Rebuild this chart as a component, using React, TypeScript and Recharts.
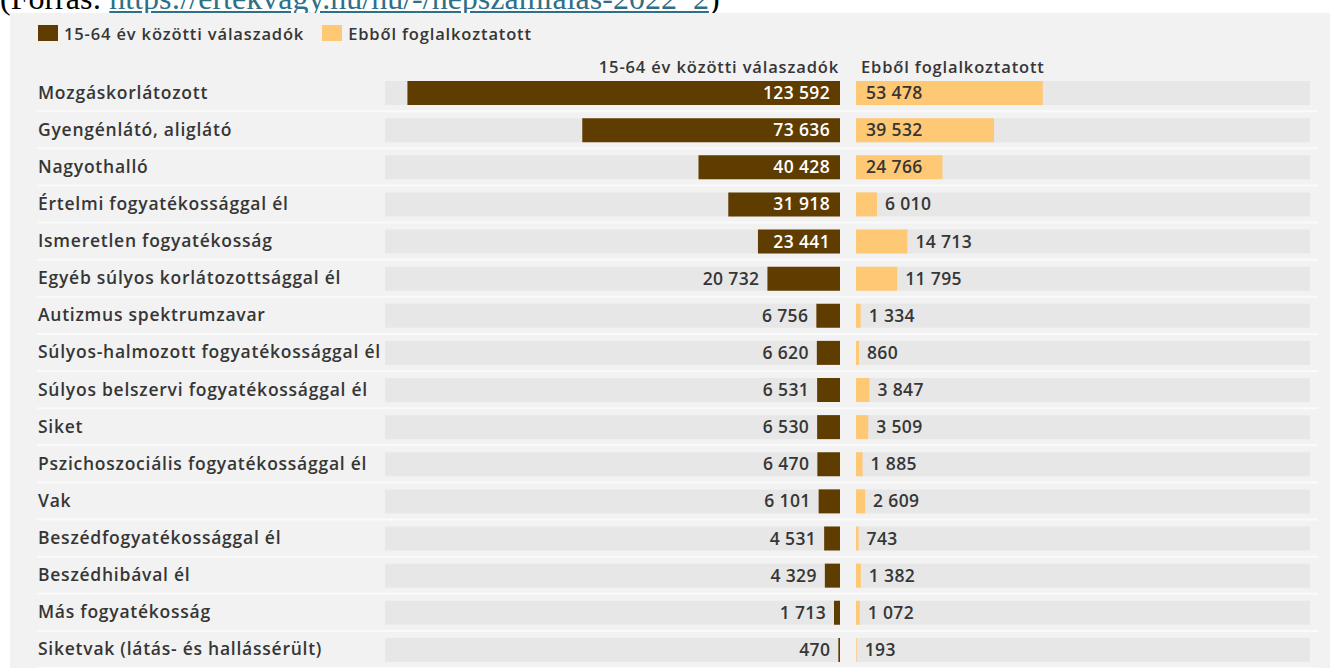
import { BarChart, Bar, XAxis, YAxis, LabelList } from "recharts"

const categories = [
  "Mozgáskorlátozott",
  "Gyengénlátó, aliglátó",
  "Nagyothalló",
  "Értelmi fogyatékossággal él",
  "Ismeretlen fogyatékosság",
  "Egyéb súlyos korlátozottsággal él",
  "Autizmus spektrumzavar",
  "Súlyos-halmozott fogyatékossággal él",
  "Súlyos belszervi fogyatékossággal él",
  "Siket",
  "Pszichoszociális fogyatékossággal él",
  "Vak",
  "Beszédfogyatékossággal él",
  "Beszédhibával él",
  "Más fogyatékosság",
  "Siketvak (látás- és hallássérült)",
]

const respondents = [123592, 73636, 40428, 31918, 23441, 20732, 6756, 6620, 6531, 6530, 6470, 6101, 4531, 4329, 1713, 470]
const employed = [53478, 39532, 24766, 6010, 14713, 11795, 1334, 860, 3847, 3509, 1885, 2609, 743, 1382, 1072, 193]

const seriesLabels = ["15-64 év közötti válaszadók", "Ebből foglalkoztatott"]
const DOMAIN: [number, number] = [0, 130000]

const BROWN = "#5f3c00"
const YELLOW = "#ffc875"
const TRACK = "#e7e7e7"
const PANEL = "#f2f2f2"
const TEXT = "#363636"
const FONT = "'Open Sans', Roboto, sans-serif"

const W = 1330
const H = 668
const TOP = 74
const ROW = (H - TOP) / categories.length

const labelStyle = { fontSize: 17.5, fontFamily: FONT, fontWeight: 600, letterSpacing: 0.75 }
const valueStyle = { fontSize: 17.5, fontFamily: FONT, fontWeight: 600, letterSpacing: 0.35 }

const data = categories.map((name, i) => ({ name, respondents: respondents[i], employed: employed[i] }))

const fmt = (v: number) => String(v).replace(/\B(?=(\d{3})+(?!\d))/g, " ")

function RowTick(props: any) {
  const { y, payload } = props
  return (
    <g>
      <text x={38} y={y} dy={6} fill={TEXT} style={labelStyle}>{payload.value}</text>
      <line x1={37} x2={1318} y1={y + ROW / 2} y2={y + ROW / 2} stroke="#fafafa" strokeWidth={2} />
    </g>
  )
}

function LeftLabel(props: any) {
  const vb = props.viewBox ?? props
  const x0 = Math.min(vb.x, vb.x + vb.width)
  const x1 = Math.max(vb.x, vb.x + vb.width)
  const cy = vb.y + vb.height / 2
  const inside = x1 - x0 > 76
  return (
    <text x={inside ? x1 - 10 : x0 - 8} y={cy} dy={6} textAnchor="end" style={valueStyle}
      fill={inside ? "#ffffff" : TEXT}>{fmt(props.value)}</text>
  )
}

function RightLabel(props: any) {
  const vb = props.viewBox ?? props
  const x0 = Math.min(vb.x, vb.x + vb.width)
  const x1 = Math.max(vb.x, vb.x + vb.width)
  const cy = vb.y + vb.height / 2
  const inside = x1 - x0 > 76
  return (
    <text x={inside ? x0 + 10 : x1 + 8} y={cy} dy={6} textAnchor="start" style={valueStyle}
      fill={TEXT}>{fmt(props.value)}</text>
  )
}

const headStyle = { fontSize: 16.5, fontWeight: 600, letterSpacing: 0.85, color: TEXT, whiteSpace: "nowrap" as const }

export default function App() {
  return (
    <div style={{ position: "absolute", left: 0, top: 0, width: W, height: H, background: "#fff", overflow: "hidden", fontFamily: FONT }}>
      <div style={{ position: "absolute", left: 0, top: -18, fontFamily: "'Liberation Serif', 'Times New Roman', serif", fontSize: 32, lineHeight: "32px", whiteSpace: "nowrap", color: "#000" }}>
        (Forrás: <span style={{ color: "#2f7088", textDecoration: "underline" }}>https://ertekvagy.hu/hu/-/nepszamlalas-2022_2</span>)
      </div>
      <div style={{ position: "absolute", left: 10, top: 13, width: W - 10, height: H - 13, background: PANEL }} />

      <div style={{ position: "absolute", left: 38, top: 22, height: 22, display: "flex", alignItems: "center", ...headStyle }}>
        <span style={{ width: 20, height: 16, background: BROWN, marginRight: 6 }} />
        <span style={{ marginRight: 18 }}>{seriesLabels[0]}</span>
        <span style={{ width: 20, height: 16, background: YELLOW, marginRight: 6 }} />
        <span>{seriesLabels[1]}</span>
      </div>

      <div style={{ position: "absolute", right: W - 839, top: 56, lineHeight: "22px", ...headStyle }}>{seriesLabels[0]}</div>
      <div style={{ position: "absolute", left: 861, top: 56, lineHeight: "22px", ...headStyle }}>{seriesLabels[1]}</div>

      <div style={{ position: "absolute", left: 0, top: 0 }}>
        <BarChart width={W} height={H} data={data} layout="vertical" margin={{ top: TOP, right: W - 840, bottom: 0, left: 0 }}>
          <YAxis type="category" dataKey="name" width={385} axisLine={false} tickLine={false} interval={0} tick={<RowTick />} />
          <XAxis type="number" domain={DOMAIN} reversed hide />
          <Bar dataKey="respondents" name={seriesLabels[0]} fill={BROWN} barSize={24} background={{ fill: TRACK }} isAnimationActive={false}>
            <LabelList dataKey="respondents" content={LeftLabel} />
          </Bar>
        </BarChart>
      </div>

      <div style={{ position: "absolute", left: 856, top: 0 }}>
        <BarChart width={W - 856} height={H} data={data} layout="vertical" margin={{ top: TOP, right: 20, bottom: 0, left: 0 }}>
          <YAxis type="category" dataKey="name" hide />
          <XAxis type="number" domain={DOMAIN} hide />
          <Bar dataKey="employed" name={seriesLabels[1]} fill={YELLOW} barSize={24} background={{ fill: TRACK }} isAnimationActive={false}>
            <LabelList dataKey="employed" content={RightLabel} />
          </Bar>
        </BarChart>
      </div>
    </div>
  )
}
